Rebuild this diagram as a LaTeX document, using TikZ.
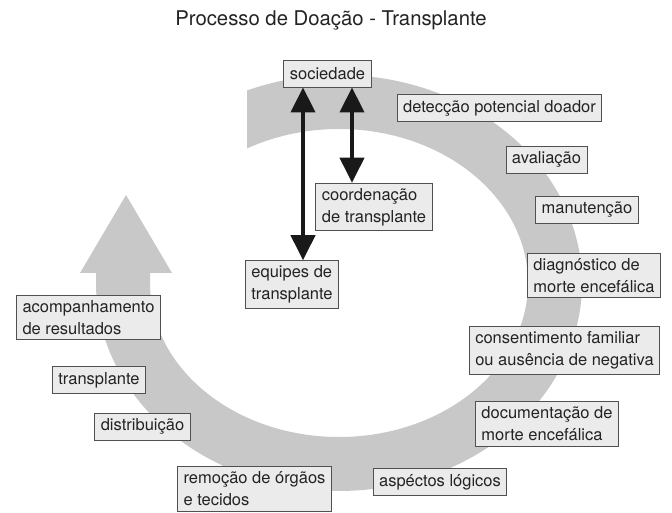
\documentclass[tikz,border=0pt]{standalone}
\usepackage{fontspec}
\setmainfont{TeX Gyre Heros}
\usetikzlibrary{arrows.meta}
\definecolor{ringgray}{RGB}{200,200,200}
\definecolor{boxgray}{RGB}{235,235,235}
\definecolor{edgegray}{RGB}{80,80,80}
\definecolor{inkgray}{RGB}{35,35,35}

\begin{document}
\begin{tikzpicture}[x=1pt,y=1pt,
  etapa/.style={draw=edgegray,fill=boxgray,line width=0.9pt,text=inkgray,align=left,
    inner xsep=6pt,inner ysep=5pt,minimum height=27pt,font=\fontsize{16.5}{22}\selectfont},
  duplo/.style={line width=4pt,draw=black!90,
    {Triangle[width=24pt,length=25pt]}-{Triangle[width=24pt,length=25pt]}}]
\useasboundingbox (0,0) rectangle (672,513);

% anel cinza com a seta
\fill[ringgray] (339,230) ++(112.2:243 and 208)
  arc[start angle=112.2,end angle=-180,x radius=243,y radius=208]
  -- (96,240) -- (80,240) -- (126,318) -- (172,240) -- (150,240) -- (150,230)
  arc[start angle=-180,end angle=119.1,x radius=189,y radius=154] -- cycle;

\node[text=inkgray,font=\fontsize{20.3}{24}\selectfont] (titulo) at (331,493) {Processo de Doação - Transplante};

\node[etapa] (sociedade) at (327.5,439.5) {sociedade};
\node[etapa] (deteccao) at (499.5,405) {detecção potencial doador};
\node[etapa] (avaliacao) at (546.5,353.5) {avaliação};
\node[etapa] (manutencao) at (587,303) {manutenção};
\node[etapa] (diagnostico) at (594,237.5) {diagnóstico de\\morte encefálica};
\node[etapa] (consentimento) at (564.5,162.5) {consentimento familiar\\ou ausência de negativa};
\node[etapa] (documentacao) at (547,89) {documentação de\\morte encefálica};
\node[etapa] (aspectos) at (440,31) {aspéctos lógicos};
\node[etapa] (remocao) at (254.5,24) {remoção de órgãos\\e tecidos};
\node[etapa] (distribuicao) at (142.5,86.5) {distribuição};
\node[etapa] (transplante) at (99,133) {transplante};
\node[etapa] (acompanhamento) at (88.5,195.5) {acompanhamento\\de resultados};
\node[etapa] (equipes) at (292,228.5) {equipes de\\transplante};
\node[etapa] (coordenacao) at (374,306) {coordenação\\de transplante};

\draw[duplo] ([xshift=-24.5pt]sociedade.south) -- ([xshift=-24.5pt]sociedade.south |- equipes.north);
\draw[duplo] ([xshift=24.5pt]sociedade.south) -- ([xshift=24.5pt]sociedade.south |- coordenacao.north);

\end{tikzpicture}
\end{document}
